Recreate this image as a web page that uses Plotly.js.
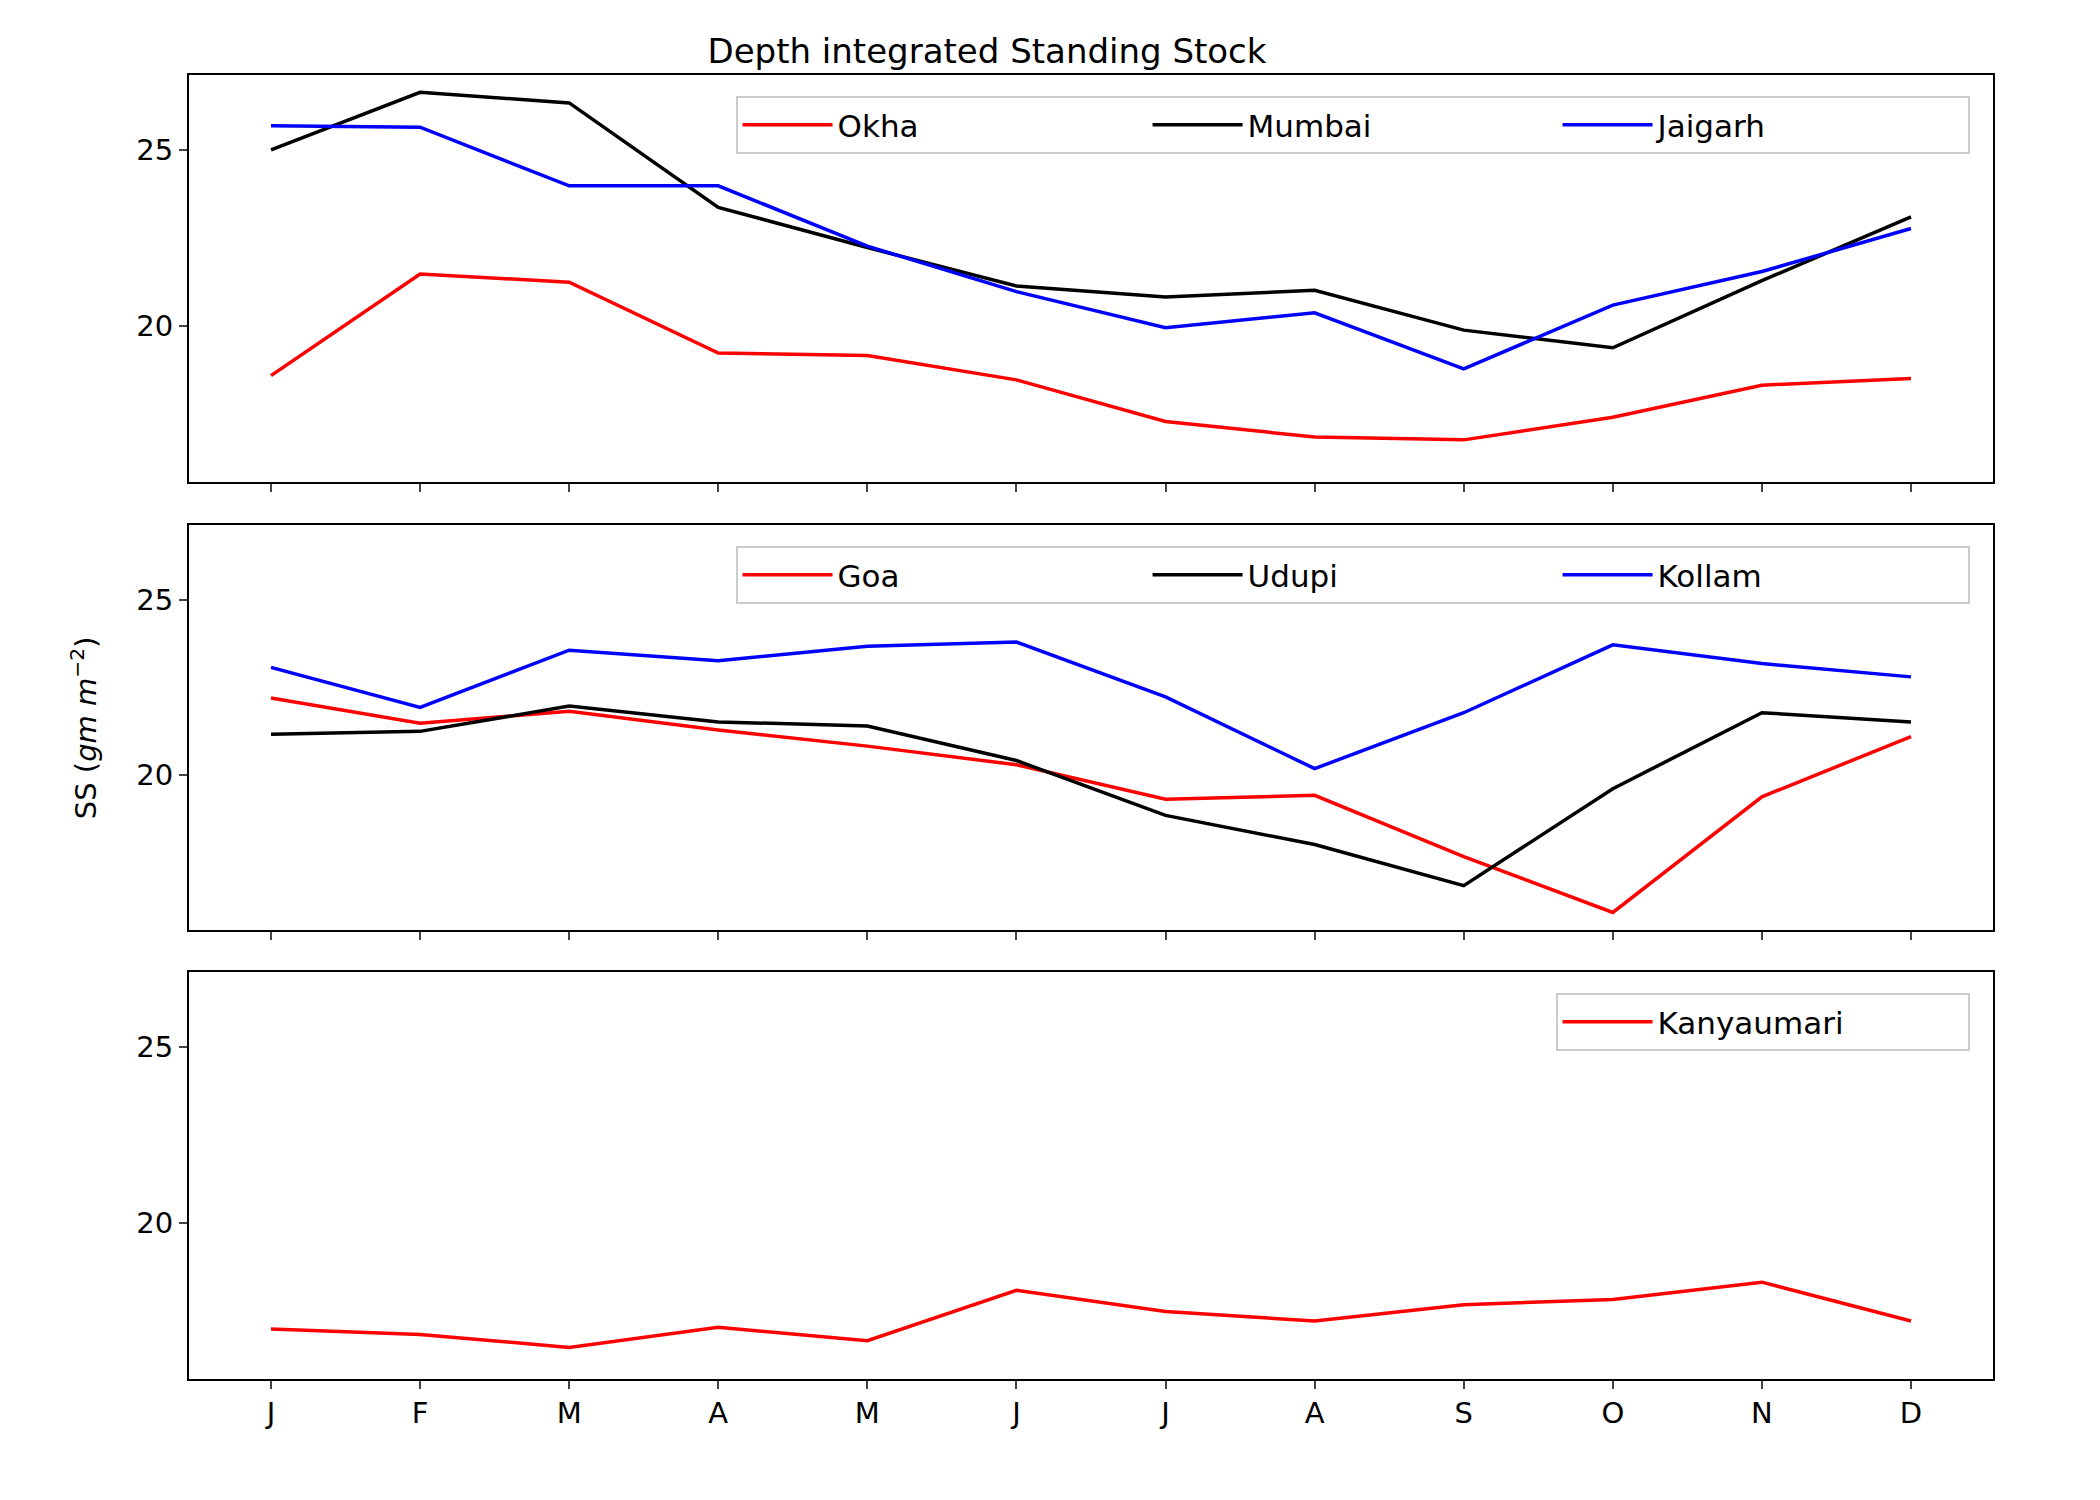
<html><head><script src="https://cdn.plot.ly/plotly-3.0.1.min.js"></script></head><body style="margin:0">
<div id="g" style="width:2100px;height:1500px"></div>
<script>
const months=["J","F","M","A","M","J","J","A","S","O","N","D"];
const okha=[18.6,21.48,21.25,19.24,19.17,18.48,17.3,16.86,16.78,17.42,18.33,18.52];
const mumbai=[25,26.63,26.33,23.37,22.23,21.14,20.83,21.02,19.89,19.39,21.29,23.1];
const jaigarh=[25.68,25.64,23.98,23.98,22.27,20.98,19.96,20.38,18.79,20.6,21.55,22.77];
const goa=[22.2,21.48,21.82,21.29,20.83,20.3,19.32,19.43,17.69,16.1,19.39,21.1];
const udupi=[21.17,21.25,21.97,21.52,21.4,20.42,18.86,18.03,16.86,19.62,21.78,21.52];
const kollam=[23.07,21.93,23.56,23.26,23.67,23.79,22.23,20.19,21.78,23.71,23.18,22.8];
const kanya=[17.0,16.85,16.48,17.05,16.67,18.1,17.5,17.23,17.69,17.84,18.33,17.23];
const x=months.map((m,i)=>i);
function tr(y,name,color,ax,leg){return {x:x,y:y,name:name,type:'scatter',mode:'lines',line:{color:color,width:3.5},xaxis:'x'+ax,yaxis:'y'+ax,legend:leg};}
const data=[tr(okha,'Okha','red','','legend'),tr(mumbai,'Mumbai','black','','legend'),tr(jaigarh,'Jaigarh','blue','','legend'),
tr(goa,'Goa','red','2','legend2'),tr(udupi,'Udupi','black','2','legend2'),tr(kollam,'Kollam','blue','2','legend2'),
tr(kanya,'Kanyaumari','red','3','legend3')];
const F={family:'DejaVu Sans',size:29,color:'black'};
function xa(show,anchor){return {domain:[0,1],range:[-0.55,11.55],tickvals:x,ticktext:months,showticklabels:show,ticks:'outside',ticklen:8,tickwidth:2,showline:true,mirror:true,linewidth:2,linecolor:'black',showgrid:false,zeroline:false,anchor:anchor,tickfont:F};}
function ya(dom,anchor){return {domain:dom,range:[15.6,27.12],tickvals:[20,25],ticks:'outside',ticklen:8,tickwidth:2,showline:true,mirror:true,linewidth:2,linecolor:'black',showgrid:false,zeroline:false,anchor:anchor,tickfont:F};}
function lg(y){return {x:0.987,y:y,xanchor:'right',yanchor:'top',orientation:'h',bordercolor:'#cccccc',borderwidth:2,font:{family:'DejaVu Sans',size:31,color:'black'},bgcolor:'rgba(255,255,255,0.8)',itemwidth:90,entrywidth:305};}
const layout={width:2100,height:1500,margin:{l:189,r:107,t:0,b:0},showlegend:true,plot_bgcolor:'white',paper_bgcolor:'white',font:F,
xaxis:xa(false,'y'),yaxis:ya([0.679,0.950],'x'),
xaxis2:xa(false,'y2'),yaxis2:ya([0.380,0.650],'x2'),
xaxis3:xa(true,'y3'),yaxis3:ya([0.081,0.352],'x3'),
legend:lg(0.936),legend2:lg(0.636),legend3:lg(0.338),
title:{text:'Depth integrated Standing Stock',x:0.47,xanchor:'center',y:0.966,yanchor:'middle',font:{family:'DejaVu Sans',size:34,color:'black'}},
annotations:[{text:'SS (<i>gm m</i><sup>−2</sup>)',xref:'paper',yref:'paper',x:-0.07,y:0.515,textangle:-90,showarrow:false,font:F}]};
Plotly.newPlot('g',data,layout,{displayModeBar:false});
</script></body></html>
